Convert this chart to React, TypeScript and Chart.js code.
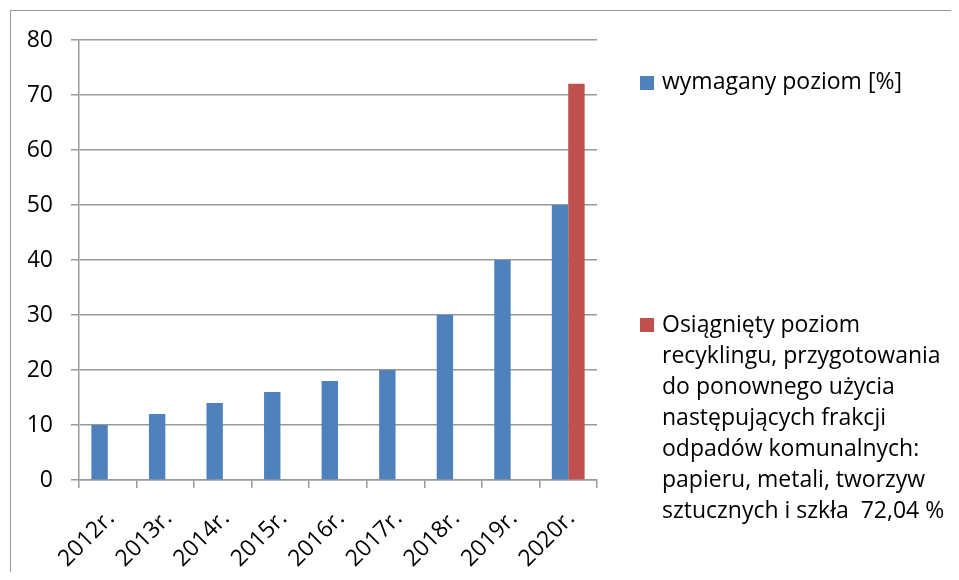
import React, { useEffect, useRef } from "react";
import { Chart, registerables } from "chart.js";

Chart.register(...registerables);

const CATEGORIES = ["2012r.", "2013r.", "2014r.", "2015r.", "2016r.", "2017r.", "2018r.", "2019r.", "2020r."];
const REQUIRED = [10, 12, 14, 16, 18, 20, 30, 40, 50];
const ACHIEVED = [null, null, null, null, null, null, null, null, 72.04];
const REQUIRED_LABEL = ["wymagany poziom [%]"];
const ACHIEVED_LABEL = [
  "Osiągnięty poziom",
  "recyklingu, przygotowania",
  "do ponownego użycia",
  "następujących frakcji",
  "odpadów komunalnych:",
  "papieru, metali, tworzyw",
  "sztucznych i szkła  72,04 %",
];
const Y_MIN = 0;
const Y_MAX = 80;
const Y_STEP = 10;

const BLUE = "#4F81BD";
const RED = "#C0504D";
const GRID = "#999999";
const FONT = "'Open Sans', sans-serif";

export default function App() {
  const ref = useRef<HTMLCanvasElement | null>(null);

  useEffect(() => {
    if (!ref.current) return;
    const chart = new Chart(ref.current, {
      type: "bar",
      data: {
        labels: CATEGORIES,
        datasets: [
          { label: REQUIRED_LABEL.join(" "), data: REQUIRED, backgroundColor: BLUE, borderWidth: 0 },
          { label: ACHIEVED_LABEL.join(" "), data: ACHIEVED as any, backgroundColor: RED, borderWidth: 0 },
        ],
      },
      options: {
        animation: false,
        responsive: false,
        devicePixelRatio: 1,
        layout: { padding: { left: 20, top: 32, right: 354, bottom: 0 } },
        datasets: { bar: { categoryPercentage: 0.57, barPercentage: 1 } },
        plugins: { legend: { display: false }, tooltip: { enabled: false } },
        scales: {
          x: {
            grid: { display: true, drawOnChartArea: false, drawTicks: true, tickLength: 8, color: GRID, lineWidth: 1.5, offset: true },
            border: { display: true, color: GRID, width: 1.5 },
            ticks: { minRotation: 45, maxRotation: 45, padding: 17, labelOffset: 3, color: "#000", font: { family: FONT, size: 23 } },
            afterFit: (s: any) => { s.height = 92; },
          },
          y: {
            min: Y_MIN,
            max: Y_MAX,
            grid: { color: GRID, lineWidth: 1.5, tickLength: 8, drawTicks: true },
            border: { display: true, color: GRID, width: 1.5 },
            ticks: { stepSize: Y_STEP, padding: 18, color: "#000", font: { family: FONT, size: 23 } },
            afterFit: (s: any) => { s.width = 51; },
          },
        },
      },
    });
    return () => chart.destroy();
  }, []);

  const textStyle: React.CSSProperties = {
    position: "absolute",
    left: 654,
    fontFamily: FONT,
    fontSize: 23,
    lineHeight: "31px",
    color: "#000",
    whiteSpace: "pre",
    margin: 0,
  };
  const boxStyle = (top: number, color: string): React.CSSProperties => ({
    position: "absolute",
    left: 632,
    top,
    width: 14,
    height: 14,
    background: color,
  });

  return (
    <div style={{ position: "relative", width: 943, height: 564 }}>
      <div
        style={{
          position: "absolute",
          left: 2,
          top: 2,
          right: 0,
          bottom: 0,
          borderLeft: "1.5px solid #999",
          borderTop: "1.5px solid #999",
        }}
      />
      <canvas ref={ref} width={943} height={564} style={{ position: "absolute", left: 0, top: 0 }} />
      <div style={boxStyle(68, BLUE)} />
      <div style={{ ...textStyle, top: 57 }}>
        {REQUIRED_LABEL.map((l, i) => (
          <div key={i}>{l}</div>
        ))}
      </div>
      <div style={boxStyle(310, RED)} />
      <div style={{ ...textStyle, top: 300 }}>
        {ACHIEVED_LABEL.map((l, i) => (
          <div key={i}>{l}</div>
        ))}
      </div>
    </div>
  );
}
